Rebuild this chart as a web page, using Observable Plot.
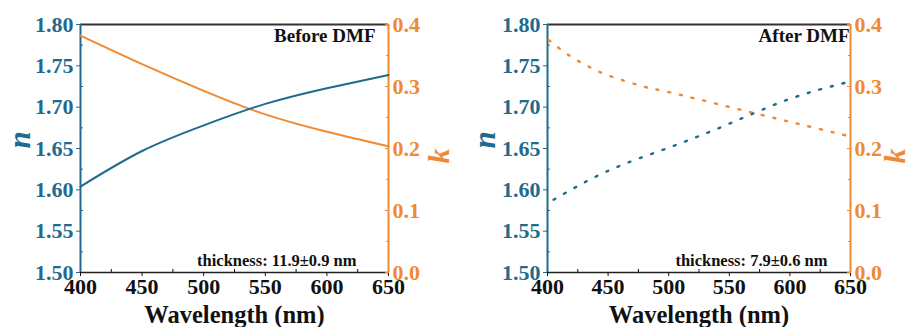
<!DOCTYPE html>
<html>
<head>
<meta charset="utf-8">
<script src="https://cdn.jsdelivr.net/npm/d3@7"></script>
<script src="https://cdn.jsdelivr.net/npm/@observablehq/plot@0.6"></script>
<style>
  html, body { margin: 0; padding: 0; background: #fff; }
  #wrap { display: flex; width: 912px; height: 327px; }
  #wrap > div { width: 456px; height: 327px; }
  svg { display: block; }
  svg text { font-family: "Liberation Serif", "Times New Roman", serif !important; }
</style>
</head>
<body>
<div id="wrap"><div id="p1"></div><div id="p2"></div></div>
<script>
// ---- data ----
const wavelength = [400, 450, 500, 550, 600, 650];
const beforeN = [1.604, 1.647, 1.678, 1.704, 1.723, 1.739];
const beforeK = [0.382, 0.336, 0.293, 0.255, 0.227, 0.2035];

const afterWlN = [405, 450, 500, 550, 600, 647];
const afterN = [1.588, 1.623, 1.651, 1.680, 1.710, 1.730];
const afterWlK = [401, 418, 435, 453, 481, 500, 550, 600, 647];
const afterK = [0.375, 0.350, 0.331, 0.316, 0.299, 0.291, 0.267, 0.243, 0.2207];

const xTicks = [400, 450, 500, 550, 600, 650];
const xMinor = [425, 475, 525, 575, 625];
const nTicks = [1.50, 1.55, 1.60, 1.65, 1.70, 1.75, 1.80];
const nMinor = [1.525, 1.575, 1.625, 1.675, 1.725, 1.775];
const kTicks = [0.0, 0.1, 0.2, 0.3, 0.4];
const kMinor = [0.05, 0.15, 0.25, 0.35];

const panelTitles = ["Before DMF", "After DMF"];
const thicknessLabels = ["thickness: 11.9\u00b10.9 nm", "thickness: 7.9\u00b10.6 nm"];
const xTitle = ["Wavelength (nm)"];
const nTitle = ["n"];
const kTitle = ["k"];

// ---- styling ----
const BLUE = "#1f6b8e";
const ORANGE = "#ef8a32";
const FONT = "Liberation Serif";
const nMin = 1.5, nMax = 1.8, kMax = 0.4;
const kToN = k => nMin + k * (nMax - nMin) / kMax;
const nToK = n => (n - nMin) * kMax / (nMax - nMin);

function panel({nX, nY, kX, kY, dash, marginLeft, marginRight, title, titleDx, thick, thickDx, nDx, kDx}) {
  const nData = nX.map((x, i) => ({x, y: nY[i]}));
  const kData = kX.map((x, i) => ({x, y: kToN(kY[i])}));
  const lineStyle = dash
    ? {strokeWidth: 2.4, strokeDasharray: "2,10"}
    : {strokeWidth: 2};
  return Plot.plot({
    width: 456, height: 327,
    marginLeft, marginRight, marginTop: 24, marginBottom: 55,
    x: {domain: [400, 650]},
    y: {domain: [nMin, nMax]},
    style: {fontFamily: FONT, background: "#fff", overflow: "visible"},
    marks: [
      // frame lines
      Plot.ruleY([nMax], {stroke: "#333", strokeWidth: 2}),
      Plot.ruleY([nMin], {stroke: "#222", strokeWidth: 1.5}),
      Plot.ruleX([400], {stroke: BLUE, strokeWidth: 2}),
      Plot.ruleX([650], {stroke: ORANGE, strokeWidth: 2}),
      // bottom axis
      Plot.axisX(xTicks, {anchor: "bottom", tickSize: 4, tickPadding: 2, fontSize: 22, fontWeight: "bold",
        color: "#111", label: null, tickFormat: d => String(d)}),
      Plot.axisX(xMinor, {anchor: "bottom", tickSize: -3, text: null, color: "#111", label: null}),
      // left n axis
      Plot.axisY(nTicks, {anchor: "left", tickSize: 4, tickPadding: 3, fontSize: 22, fontWeight: "bold",
        color: BLUE, label: null, tickFormat: d => d.toFixed(2)}),
      Plot.axisY(nMinor, {anchor: "left", tickSize: -3, text: null, color: BLUE, label: null}),
      // right k axis
      Plot.axisY(kTicks.map(kToN), {anchor: "right", tickSize: -4, tickPadding: 8, fontSize: 22, fontWeight: "bold",
        color: ORANGE, label: null, tickFormat: d => nToK(d).toFixed(1)}),
      Plot.axisY(kMinor.map(kToN), {anchor: "right", tickSize: -3, text: null, color: ORANGE, label: null}),
      // curves
      Plot.line(kData, {x: "x", y: "y", stroke: ORANGE, curve: "natural", ...lineStyle}),
      Plot.line(nData, {x: "x", y: "y", stroke: BLUE, curve: "natural", ...lineStyle}),
      // annotations
      Plot.text([title], {text: d => d, frameAnchor: "top-right", dx: titleDx, dy: 4, fontSize: 19,
        fontWeight: "bold", fill: "#111"}),
      Plot.text([thick], {text: d => d, frameAnchor: "bottom-right", dx: thickDx, dy: -7, fontSize: 16.5,
        fontWeight: "bold", fill: "#111"}),
      Plot.text(xTitle, {text: d => d, frameAnchor: "bottom", dy: 50, fontSize: 24.5, fontWeight: "bold", fill: "#111"}),
      Plot.text(nTitle, {text: d => d, frameAnchor: "left", dx: nDx, rotate: -90, fontSize: 31, fontWeight: "bold",
        fontStyle: "italic", fill: BLUE}),
      Plot.text(kTitle, {text: d => d, frameAnchor: "right", dx: kDx, rotate: -90, fontSize: 30, fontWeight: "bold",
        fontStyle: "italic", fill: ORANGE})
    ]
  });
}

document.getElementById("p1").append(panel({
  nX: wavelength, nY: beforeN, kX: wavelength, kY: beforeK, dash: false,
  marginLeft: 80, marginRight: 68, title: panelTitles[0], titleDx: -13,
  thick: thicknessLabels[0], thickDx: -32, nDx: -60, kDx: 51
}));
document.getElementById("p2").append(panel({
  nX: afterWlN, nY: afterN, kX: afterWlK, kY: afterK, dash: true,
  marginLeft: 91, marginRight: 62, title: panelTitles[1], titleDx: -1,
  thick: thicknessLabels[1], thickDx: -23, nDx: -62, kDx: 45
}));
</script>
</body>
</html>
